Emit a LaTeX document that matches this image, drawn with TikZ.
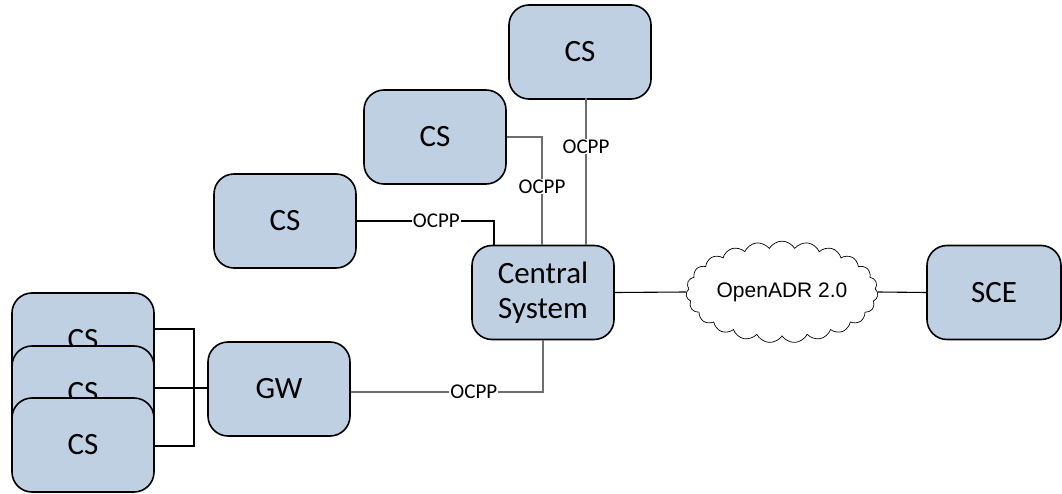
\documentclass[tikz,border=0pt]{standalone}
\usepackage{fontspec}
\newfontfamily\calfont{Carlito}
\newfontfamily\arifont{Liberation Sans}
\usetikzlibrary{shapes.symbols}
\definecolor{boxfill}{HTML}{BFD0E3}
\definecolor{lgray}{HTML}{6E6E6E}
\begin{document}
\begin{tikzpicture}[x=1pt,y=-1pt,
  box/.style={draw=black,line width=1.6pt,fill=boxfill,rounded corners=20pt,
    minimum width=142pt,minimum height=94pt,inner sep=0pt,align=center,
    font=\calfont\fontsize{31}{35}\selectfont},
  conn/.style={draw=lgray,line width=1.1pt},
  lbl/.style={fill=white,inner sep=1pt,font=\calfont\fontsize{21}{23}\selectfont}]
\useasboundingbox (0,0) rectangle (1062,494);
\coordinate (c3) at (494,221);
\coordinate (c2) at (542,137);
\coordinate (t1) at (586,98);
\coordinate (t1b) at (586,245);
\coordinate (gwc) at (543,392);
\coordinate (br) at (194,388);
% nodes
\node[box] (cs1) at (580,52) {CS};
\node[box] (cs2) at (435,137) {CS};
\node[box] (cs3) at (285,221) {CS};
\node[box] (cen) at (543,292.5) {Central\\System};
\node[box,minimum width=134pt] (sce) at (994,292.5) {SCE};
\node[box] (gw) at (279,389) {GW};
\node[cloud,draw=black,line width=0.7pt,fill=white,cloud puffs=23,cloud puff arc=120,aspect=2.1,
  minimum width=192pt,minimum height=94pt,inner sep=0pt,font=\arifont\fontsize{21}{23}\selectfont] (cl) at (782,292) {OpenADR 2.0};
% stacked
\node[box] (s1) at (83,340) {CS};
\node[box] (s2) at (83,393) {CS};
\node[box] (s3) at (83,445) {CS};
% connector lines
\draw[conn,draw=black] (cs3.east) -- node[lbl,pos=0.58]{OCPP} (c3) -- (c3 |- cen.north);
\draw[conn] (cs2.east) -- (c2) -- node[lbl,pos=0.46]{OCPP} (c2 |- cen.north);
\draw[conn] (t1) -- node[lbl,pos=0.33]{OCPP} (t1b);
\draw[conn] (gw.east |- gwc) -- node[lbl,pos=0.64]{OCPP} (gwc) -- (cen.south);
\draw[conn,draw=black] (cen.east) -- (cl.west);
\draw[conn,draw=black] (cl.east) -- (sce.west);
\draw[conn,draw=black] (s1.east |- 0,329) -- (194,329) -- (194,446) -- (s3.east |- 0,446);
\draw[conn,draw=black] (s2.east |- br) -- (gw.west |- br);
\end{tikzpicture}
\end{document}
